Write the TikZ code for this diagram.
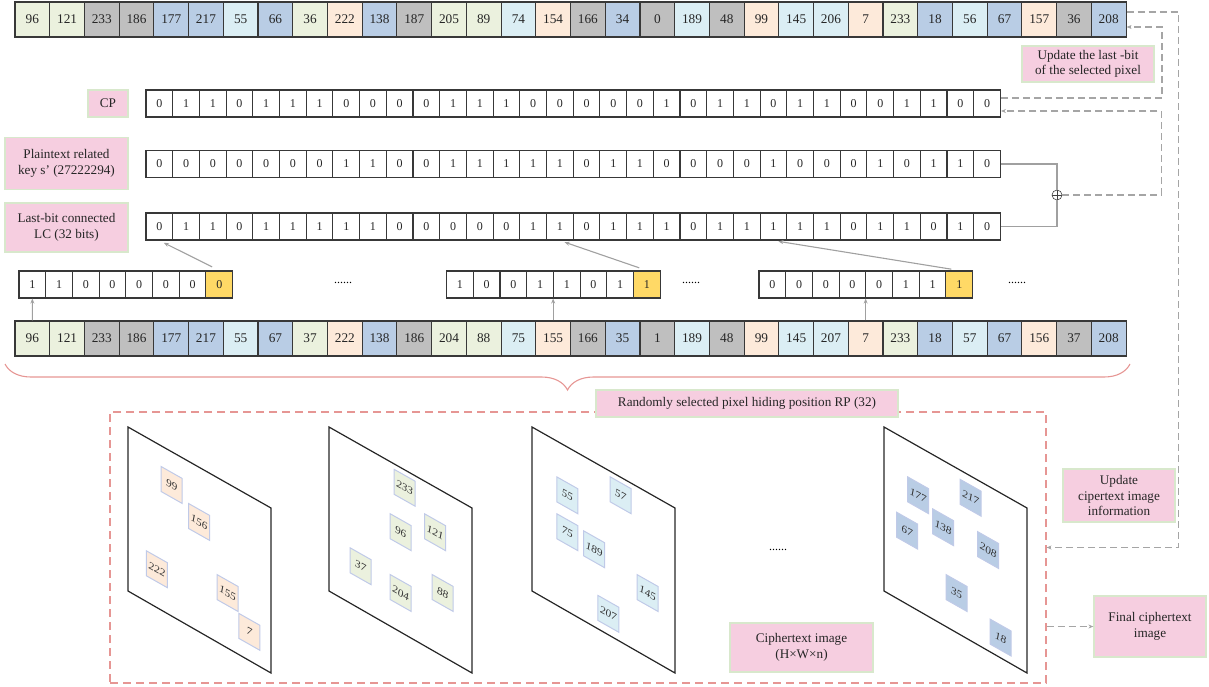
\documentclass[tikz,border=0pt]{standalone}
\usepackage{fontspec}
\setmainfont{Liberation Serif}
\usetikzlibrary{arrows.meta,decorations.pathreplacing,calc}
\definecolor{cG}{RGB}{235,241,222}
\definecolor{cK}{RGB}{191,191,191}
\definecolor{cB}{RGB}{185,205,229}
\definecolor{cC}{RGB}{219,238,244}
\definecolor{cP}{RGB}{253,234,218}
\definecolor{cY}{RGB}{255,217,102}
\definecolor{pinkF}{RGB}{246,206,224}
\definecolor{pinkB}{RGB}{216,232,204}
\definecolor{salm}{RGB}{230,150,148}
\definecolor{dashG}{RGB}{165,165,165}
\definecolor{lineG}{RGB}{160,160,160}
\definecolor{tileB}{RGB}{192,202,232}
\newcommand{\myfs}[1]{\fontsize{#1}{#1}\selectfont}
\newcommand{\mytile}[5]{\begin{scope}[shift={(#1,#2)},yslant=-0.566]\node[tilebox,fill=#3,transform shape] (#5) at (0,0) {#4};\end{scope}}
\tikzset{
 numcell/.style={draw=black!78, line width=1.1pt, inner sep=0pt, minimum width=34.72pt, minimum height=35pt, font=\myfs{13.3}, text=black!85},
 bitcell/.style={draw=black!78, line width=1.1pt, inner sep=0pt, minimum width=26.7pt, minimum height=27pt, font=\myfs{12}, fill=white, text=black!85},
 pinkbox/.style={fill=pinkF, draw=pinkB, line width=1.3pt, align=center, inner sep=1pt, font=\fontsize{13.2}{15.6}\selectfont, text=black!85},
 gdash/.style={draw=dashG, line width=1.1pt, dash pattern=on 7pt off 4pt},
 gline/.style={draw=lineG, line width=1.1pt},
 arr/.style={-{Stealth[length=5pt,width=4pt]}},
 plane/.style={draw=black!85, line width=1.2pt},
 tilebox/.style={draw=tileB, line width=1pt, inner sep=0pt, minimum width=21pt, minimum height=25pt, font=\itshape\myfs{11}, text=black!80},
 dots/.style={font=\myfs{12}, inner sep=0pt},
 framebox/.style={draw=salm, line width=1.1pt, dash pattern=on 8pt off 5pt, inner sep=0pt},
}
\begin{document}
\begin{tikzpicture}[x=1pt,y=-1pt]
\useasboundingbox (0,0) rectangle (1209,686);
% top row
\foreach \v/\c [count=\i] in {96/cG,121/cG,233/cK,186/cK,177/cB,217/cB,55/cC,66/cB,36/cG,222/cP,138/cB,187/cK,205/cG,89/cG,74/cC,154/cP,166/cK,34/cB,0/cK,189/cC,48/cK,99/cP,145/cC,206/cC,7/cP,233/cG,18/cB,56/cC,67/cB,157/cP,36/cK,208/cB}
  \node[numcell, fill=\c] (t\i) at ({15+(\i-0.5)*34.72}, 19.5) {\v};
% bottom row
\foreach \v/\c [count=\i] in {96/cG,121/cG,233/cK,186/cK,177/cB,217/cB,55/cC,67/cB,37/cG,222/cP,138/cB,186/cK,204/cG,88/cG,75/cC,155/cP,166/cK,35/cB,1/cK,189/cC,48/cK,99/cP,145/cC,207/cC,7/cP,233/cG,18/cB,57/cC,67/cB,156/cP,37/cK,208/cB}
  \node[numcell, fill=\c] (b\i) at ({15+(\i-0.5)*34.72}, 338.5) {\v};
% CP row
\foreach \b [count=\i] in {0,1,1,0,1,1,1,0,0,0,0,1,1,1,0,0,0,0,0,1,0,1,1,0,1,1,0,0,1,1,0,0}
  \node[bitcell] (cp\i) at ({146+(\i-0.5)*26.7}, 103.5) {\b};
% key row
\foreach \b [count=\i] in {0,0,0,0,0,0,0,1,1,0,0,1,1,1,1,1,0,1,1,0,0,0,0,1,0,0,0,1,0,1,1,0}
  \node[bitcell] (k\i) at ({146+(\i-0.5)*26.7}, 164) {\b};
% LC row
\foreach \b [count=\i] in {0,1,1,0,1,1,1,1,1,0,0,0,0,0,1,1,0,1,1,1,0,1,1,1,1,1,0,1,1,0,1,0}
  \node[bitcell] (lc\i) at ({146+(\i-0.5)*26.7}, 226.5) {\b};
% byte rows
\foreach \b [count=\i] in {1,1,0,0,0,0,0}
  \node[bitcell] (ra\i) at ({19+(\i-0.5)*26.7}, 284.5) {\b};
\node[bitcell, fill=cY] (ra8) at ({19+7.5*26.7}, 284.5) {0};
\foreach \b [count=\i] in {1,0,0,1,1,0,1}
  \node[bitcell] (rb\i) at ({446.6+(\i-0.5)*26.7}, 284.5) {\b};
\node[bitcell, fill=cY] (rb8) at ({446.6+7.5*26.7}, 284.5) {1};
\foreach \b [count=\i] in {0,0,0,0,0,1,1}
  \node[bitcell] (rc\i) at ({759+(\i-0.5)*26.7}, 284.5) {\b};
\node[bitcell, fill=cY] (rc8) at ({759+7.5*26.7}, 284.5) {1};
\node[dots] (e1) at (343,283) {......};
\node[dots] (e2) at (691,283) {......};
\node[dots] (e3) at (1017,283) {......};
% labels
\node[pinkbox, minimum width=132pt, minimum height=36pt] (upd) at (1088,64) {Update the last -bit\\of the selected pixel};
\node[pinkbox, minimum width=40pt, minimum height=27pt] (cpl) at (108,103.5) {CP};
\node[pinkbox, minimum width=123pt, minimum height=52pt] (kl) at (66.5,163.5) {Plaintext related\\key s' (27222294)};
\node[pinkbox, minimum width=123pt, minimum height=49pt] (lcl) at (66.5,227.5) {Last-bit connected\\LC (32 bits)};
% XOR
\node[circle, draw=black!75, line width=0.6pt, inner sep=0pt, minimum size=10pt,
  path picture={\draw[black!75, line width=0.6pt] (path picture bounding box.north) -- (path picture bounding box.south) (path picture bounding box.west) -- (path picture bounding box.east);}] (xor) at (1057,195) {};
\draw[gline] (k32.east) -| (xor.north);
\draw[gline] (lc32.east) -| (xor.south);
% arrows bytes
\draw[gline, arr] (b1.north) -- (ra1.south);
\draw[gline, arr] (b16.north) -- (b16.north |- rb1.south);
\draw[gline, arr] (b25.north) -- (b25.north |- rc1.south);
\draw[gline, arr, shorten <=8pt, shorten >=5pt] (ra8.north) -- (lc1.south);
\draw[gline, arr, shorten <=8pt, shorten >=5pt] (rb8.north) -- (lc16.south);
\draw[gline, arr, shorten <=8pt, shorten >=5pt] (rc8.north) -- (lc24.south);
% brace
\draw[salm, line width=1.1pt, decorate, decoration={brace, mirror, amplitude=26pt}] (5,364) -- (1130,364);
% frame
\node[framebox, minimum width=936pt, minimum height=271pt] (frame) at (578,547.5) {};
\node[pinkbox, minimum width=302pt, minimum height=27pt] (rp) at (747,403.5) {Randomly selected pixel hiding position RP (32)};
% planes
\foreach \L in {128,329,532,884}
  \draw[plane] (\L,427) -- ({\L+143},508) -- ({\L+143},673) -- (\L,591) -- cycle;
\mytile{171.7}{485}{cP}{99}{p1a}
\mytile{199.2}{522}{cP}{156}{p1b}
\mytile{156.8}{569.2}{cP}{222}{p1c}
\mytile{227.5}{593}{cP}{155}{p1d}
\mytile{249.3}{631.8}{cP}{7}{p1e}
\mytile{404.7}{487.8}{cG}{233}{p2a}
\mytile{400.7}{532.2}{cG}{96}{p2b}
\mytile{435}{532.2}{cG}{121}{p2c}
\mytile{360.7}{566.3}{cG}{37}{p2d}
\mytile{400.7}{593}{cG}{204}{p2e}
\mytile{442.7}{593}{cG}{88}{p2f}
\mytile{567.3}{495.3}{cC}{55}{p3a}
\mytile{620.7}{495.3}{cC}{57}{p3b}
\mytile{567.3}{532.2}{cC}{75}{p3c}
\mytile{594}{549.2}{cC}{189}{p3d}
\mytile{647.5}{593}{cC}{145}{p3e}
\mytile{608.3}{613.8}{cC}{207}{p3f}
\mytile{918.2}{495.3}{cB}{177}{p4a}
\mytile{970.5}{497.7}{cB}{217}{p4b}
\mytile{907.2}{530.7}{cB}{67}{p4c}
\mytile{943.2}{527.3}{cB}{138}{p4d}
\mytile{988}{550}{cB}{208}{p4e}
\mytile{956.5}{593}{cB}{35}{p4f}
\mytile{1000.5}{637.5}{cB}{18}{p4g}
\node[dots] (e4) at (778,550) {......};
\node[pinkbox, minimum width=143pt, minimum height=49pt] (ci) at (801.5,647.5) {Ciphertext image\\(H×W×n)};
\node[pinkbox, minimum width=112pt, minimum height=53pt] (uci) at (1119,495.5) {Update\\cipertext image\\information};
\node[pinkbox, minimum width=112pt, minimum height=61pt] (final) at (1150,626.5) {Final ciphertext\\image};
% dashed connectors
\coordinate (tOut) at ($(t32.east)+(0,-7.5)$);
\coordinate (tIn) at ($(t32.east)+(0,7.5)$);
\coordinate (cpOut) at ($(cp32.east)+(0,-5.5)$);
\coordinate (cpIn) at ($(cp32.east)+(0,7.5)$);
\draw[gdash, arr] (tOut) -- ++(52,0) |- (frame.east);
\draw[gdash, arr] (cpOut) -- ++(161,0) |- (tIn);
\draw[gdash, arr] (xor.east) -- ++(99,0) |- (cpIn);
\draw[gdash, arr] (frame.east |- final.west) -- (final.west);
\end{tikzpicture}
\end{document}
